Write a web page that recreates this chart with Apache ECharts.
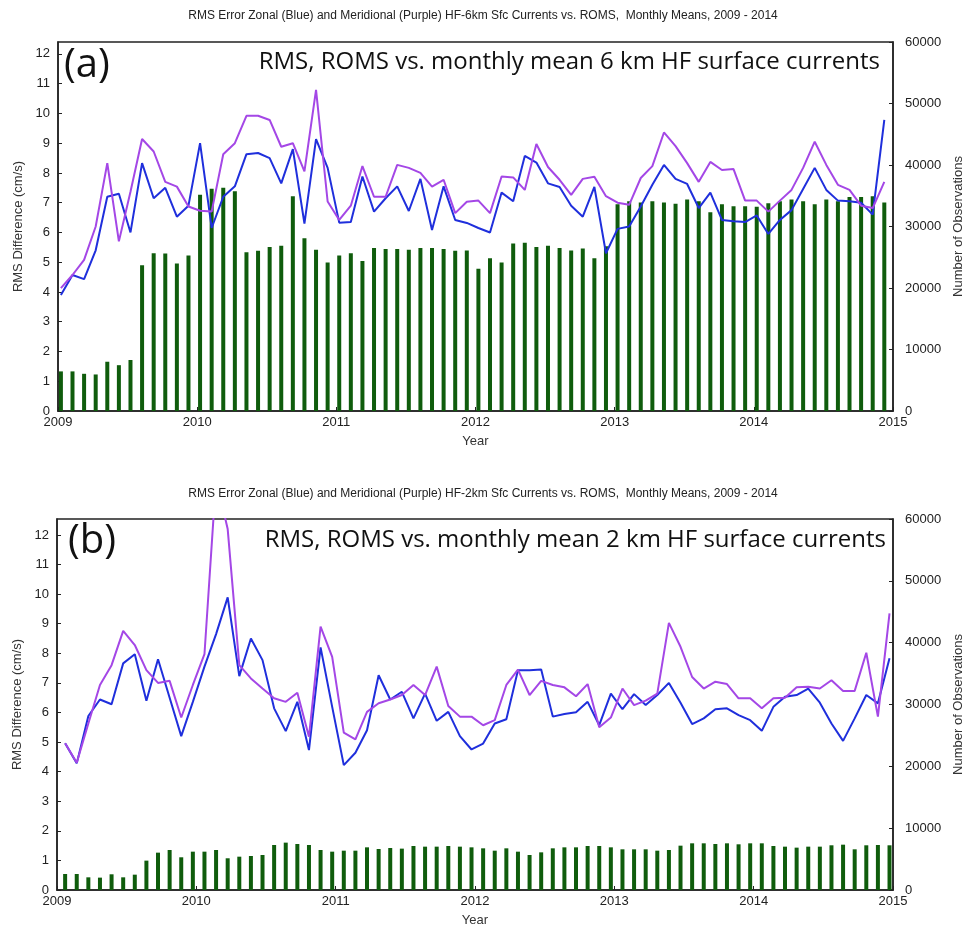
<!DOCTYPE html>
<html>
<head>
<meta charset="utf-8">
<script src="https://cdn.jsdelivr.net/npm/echarts@6/dist/echarts.min.js"></script>
<style>
html,body{margin:0;padding:0;background:#fff;}
#main{width:966px;height:935px;}
</style>
</head>
<body>
<div id="main"></div>
<script>
// 6 km 面板 (a)：月均值
var zonal6 = [3.9,4.57,4.43,5.4,7.2,7.3,6.0,8.33,7.15,7.5,6.53,6.9,9.0,6.15,7.2,7.55,8.63,8.67,8.5,7.65,8.8,6.3,9.14,8.17,
  6.33,6.35,7.88,6.7,7.15,7.55,6.72,7.8,6.08,7.55,6.42,6.32,6.15,6.0,7.34,7.05,8.57,8.35,7.65,7.53,6.9,6.53,7.53,5.3,
  6.12,6.2,6.87,7.6,8.27,7.8,7.63,6.82,7.34,6.42,6.38,6.35,6.57,5.95,6.42,6.75,7.46,8.17,7.43,7.07,7.05,7.0,6.6,9.78];
var merid6 = [4.13,4.57,5.08,6.2,8.33,5.7,7.37,9.14,8.72,7.7,7.54,6.87,6.73,6.7,8.63,9.0,9.92,9.92,9.78,8.88,9.0,8.05,10.79,7.04,
  6.42,6.9,8.23,7.2,7.2,8.27,8.17,8.0,7.54,7.77,6.65,7.03,7.07,6.65,7.88,7.85,7.43,8.97,8.2,7.77,7.26,7.8,7.87,7.22,
  7.0,6.93,7.83,8.23,9.36,8.9,8.33,7.7,8.37,8.1,8.13,7.07,7.07,6.7,7.07,7.43,8.17,9.05,8.27,7.6,7.43,6.9,6.82,7.7];
var nobs6 = [6440,6440,6050,5940,8010,7450,8290,23700,25660,25600,23980,25270,35180,36130,36300,35750,25830,26050,26670,26890,34900,28070,26220,24150,
  25270,25660,24370,26500,26330,26330,26220,26500,26500,26330,26050,26100,23140,24820,24150,27230,27340,26670,26890,26500,26100,26440,24820,26780,
  33600,34100,33900,34100,33900,33700,34400,34100,32300,33600,33300,33300,33200,33800,34100,34400,34100,33600,34400,34100,34800,34800,34900,33900];

// 2 km 面板 (b)
var zonal2 = [4.96,4.28,5.88,6.44,6.28,7.66,7.97,6.4,7.8,6.5,5.2,6.36,7.55,8.65,9.89,7.23,8.5,7.77,6.14,5.37,6.36,4.73,8.2,6.19,
  4.22,4.64,5.4,7.26,6.44,6.7,5.8,6.64,5.72,6.02,5.2,4.75,4.95,5.63,5.77,7.43,7.43,7.45,5.86,5.95,6.01,6.36,5.57,6.64,
  6.11,6.62,6.25,6.59,7.0,6.33,5.61,5.8,6.11,6.14,5.91,5.74,5.38,6.19,6.53,6.59,6.81,6.33,5.63,5.04,5.8,6.59,6.31,7.83];
var merid2 = [4.96,4.3,5.63,6.93,7.6,8.76,8.28,7.43,7.0,7.07,5.83,6.93,7.97,13.9,12.2,7.6,7.15,6.81,6.48,6.36,6.67,5.18,8.9,7.88,
  5.32,5.09,6.02,6.31,6.44,6.59,6.93,6.59,7.55,6.22,5.86,5.86,5.57,5.74,6.93,7.45,6.59,7.07,6.93,6.85,6.55,6.96,5.5,5.83,
  6.81,6.25,6.4,6.64,9.03,8.22,7.2,6.81,7.04,6.96,6.48,6.48,6.14,6.48,6.5,6.85,6.87,6.81,7.09,6.73,6.73,8.02,5.86,9.35];
var nobs2 = [2590,2590,2050,2000,2540,2050,2480,4750,6040,6470,5290,6200,6200,6470,5130,5390,5500,5660,7280,7660,7440,7280,6470,6200,
  6360,6360,6900,6630,6790,6690,7120,7010,7010,7120,7010,6900,6740,6360,6740,6200,5660,6090,6740,6900,6900,7120,7120,6900,
  6580,6580,6580,6360,6470,7170,7550,7550,7440,7550,7390,7550,7550,7120,7010,6850,7010,7010,7230,7330,6580,7230,7280,7230];

// 把月序号转成年份坐标
function pairs(vals, off) {
    let out = [];
    for (let i = 0; i < vals.length; i++) {
        out.push([2009 + (i + off) / 12, vals[i]]);
    }
    return out;
}

var FONT = 'Liberation Sans';
var BLUE = '#1f2fdc';
var PURPLE = '#a447e6';
var GREEN = '#0f5c0c';
var plain = function (v) { return String(v); };

function xAx(gi) {
    return {
        type: 'value', gridIndex: gi, min: 2009, max: 2015, interval: 1,
        name: 'Year', nameLocation: 'middle', nameGap: 24,
        nameTextStyle: {fontFamily: FONT, fontSize: 13, color: '#333'},
        axisLine: {show: true, lineStyle: {color: '#222', width: 1.5}},
        axisTick: {show: true, inside: true, length: 4, lineStyle: {color: '#222'}},
        axisLabel: {fontFamily: FONT, fontSize: 13, color: '#222', margin: 5, formatter: plain},
        splitLine: {show: false}
    };
}
function yLeft(gi, max) {
    return {
        type: 'value', gridIndex: gi, min: 0, max: max, interval: 1,
        name: 'RMS Difference (cm/s)', nameLocation: 'middle', nameGap: 30,
        nameTextStyle: {fontFamily: FONT, fontSize: 13, color: '#333'},
        axisLine: {show: true, lineStyle: {color: '#222', width: 1.5}},
        axisTick: {show: true, inside: true, length: 4, lineStyle: {color: '#222'}},
        axisLabel: {fontFamily: FONT, fontSize: 13, color: '#222', margin: 8, showMaxLabel: false, formatter: plain},
        splitLine: {show: false}
    };
}
function yRight(gi) {
    return {
        type: 'value', gridIndex: gi, min: 0, max: 60000, interval: 10000, position: 'right',
        name: 'Number of Observations', nameLocation: 'middle', nameGap: 58,
        nameTextStyle: {fontFamily: FONT, fontSize: 13, color: '#333'},
        axisLine: {show: true, lineStyle: {color: '#222', width: 1.5}},
        axisTick: {show: true, inside: true, length: 4, lineStyle: {color: '#222'}},
        axisLabel: {fontFamily: FONT, fontSize: 13, color: '#222', margin: 12, formatter: plain},
        splitLine: {show: false}
    };
}
function bars(gi, vals, off) {
    return {type: 'bar', xAxisIndex: gi, yAxisIndex: gi * 2 + 1, data: pairs(vals, off),
        barWidth: 4, itemStyle: {color: GREEN}, silent: true};
}
function line(gi, vals, off, color) {
    return {type: 'line', xAxisIndex: gi, yAxisIndex: gi * 2, data: pairs(vals, off),
        symbol: 'none', clip: true, lineStyle: {color: color, width: 2}, silent: true};
}

var chart = echarts.init(document.getElementById('main'));
chart.setOption({
    animation: false,
    backgroundColor: '#fff',
    grid: [
        {left: 58, right: 73, top: 42, height: 369, show: true, borderColor: '#222', borderWidth: 1.5, outerBoundsMode: 'none', containLabel: false},
        {left: 57, right: 73, top: 519, height: 371, show: true, borderColor: '#222', borderWidth: 1.5, outerBoundsMode: 'none', containLabel: false}
    ],
    xAxis: [xAx(0), xAx(1)],
    yAxis: [yLeft(0, 12.4), yRight(0), yLeft(1, 12.54), yRight(1)],
    series: [
        bars(0, nobs6, 0.25), line(0, zonal6, 0.25, BLUE), line(0, merid6, 0.25, PURPLE),
        bars(1, nobs2, 0.7), line(1, zonal2, 0.7, BLUE), line(1, merid2, 0.7, PURPLE)
    ],
    graphic: [
        {type: 'text', left: 'center', top: 10, style: {text: 'RMS Error Zonal (Blue) and Meridional (Purple) HF-6km Sfc Currents vs. ROMS,  Monthly Means, 2009 - 2014', font: '12px "Liberation Sans"', fill: '#222'}},
        {type: 'text', left: 'center', top: 488, style: {text: 'RMS Error Zonal (Blue) and Meridional (Purple) HF-2km Sfc Currents vs. ROMS,  Monthly Means, 2009 - 2014', font: '12px "Liberation Sans"', fill: '#222'}},
        {type: 'text', left: 64, top: 46, style: {text: '(a)', font: '40px "Open Sans"', fill: '#111'}},
        {type: 'text', right: 86, top: 50, style: {text: 'RMS, ROMS vs. monthly mean 6 km HF surface currents', font: '24px "Open Sans"', fill: '#111'}},
        {type: 'text', left: 68, top: 522, style: {text: '(b)', font: '40px "Open Sans"', fill: '#111'}},
        {type: 'text', right: 80, top: 528, style: {text: 'RMS, ROMS vs. monthly mean 2 km HF surface currents', font: '24px "Open Sans"', fill: '#111'}}
    ]
});
</script>
</body>
</html>
